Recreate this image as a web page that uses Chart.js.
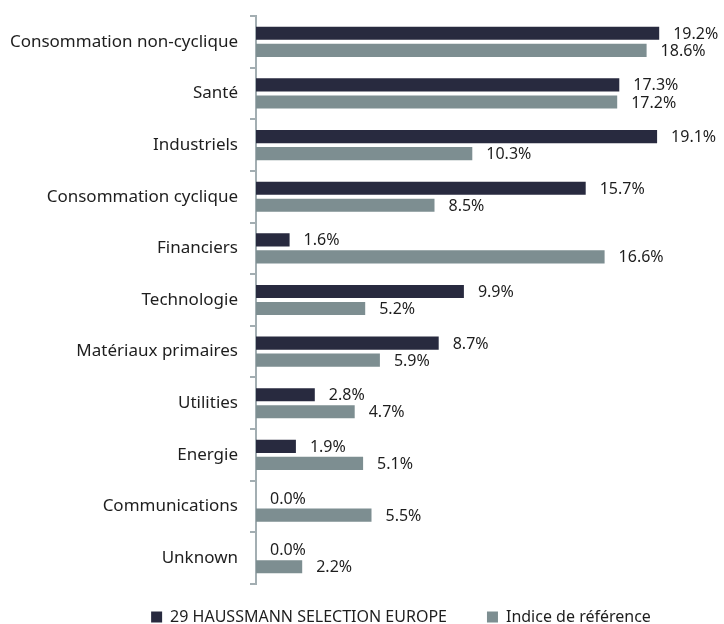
<!DOCTYPE html>
<html>
<head>
<meta charset="utf-8">
<script src="https://cdn.jsdelivr.net/npm/chart.js@4/dist/chart.umd.min.js"></script>
<style>
  html, body { margin: 0; padding: 0; background: #ffffff; }
  #wrap { width: 724px; height: 624px; position: relative; }
</style>
</head>
<body>
<div id="wrap"><canvas id="chart"></canvas></div>
<script>
// Sector allocation: fund vs. benchmark (% of assets)
const sectors = [
  "Consommation non-cyclique", "Santé", "Industriels", "Consommation cyclique",
  "Financiers", "Technologie", "Matériaux primaires", "Utilities",
  "Energie", "Communications", "Unknown"
];
const fundWeights  = [19.2, 17.3, 19.1, 15.7, 1.6, 9.9, 8.7, 2.8, 1.9, 0.0, 0.0];
const indexWeights = [18.6, 17.2, 10.3, 8.5, 16.6, 5.2, 5.9, 4.7, 5.1, 5.5, 2.2];
const seriesNames  = ["29 HAUSSMANN SELECTION EUROPE", "Indice de référence"];

const FONT = "'Noto Sans', 'Open Sans', sans-serif";
const TEXT = "#1e1e1e";
const AXIS_X = 256;         // where the category axis sits
const LEGEND_CENTER = 401;  // horizontal centre of the legend row
const LEGEND_MID_Y = 617;   // vertical centre of the legend row
const LEGEND_FONT = 16;
const LEGEND_GAP = 40;      // space between the two legend entries

// Writes each bar's percentage just past its end
const valueLabels = {
  id: "valueLabels",
  afterDatasetsDraw(chart) {
    const ctx = chart.ctx;
    ctx.save();
    ctx.font = "16px " + FONT;
    ctx.fillStyle = TEXT;
    ctx.textAlign = "left";
    ctx.textBaseline = "middle";
    chart.data.datasets.forEach((ds, i) => {
      chart.getDatasetMeta(i).data.forEach((bar, j) => {
        const v = ds.data[j];
        ctx.fillText(v.toFixed(1) + "%", bar.x + 14, bar.y + 1);
      });
    });
    ctx.restore();
  }
};

// Places the legend row under the labels + plot block
const legendPlace = {
  id: "legendPlace",
  afterLayout(chart) {
    const lg = chart.legend;
    if (!lg) return;
    const w = lg.right - lg.left;
    const h = lg.bottom - lg.top;
    lg.left = LEGEND_CENTER - w / 2;
    lg.right = LEGEND_CENTER + w / 2;
    lg.top = LEGEND_MID_Y - LEGEND_GAP - LEGEND_FONT / 2;
    lg.bottom = lg.top + h;
  }
};

new Chart(document.getElementById("chart"), {
  type: "bar",
  data: {
    labels: sectors,
    datasets: [
      { label: seriesNames[0], data: fundWeights,  backgroundColor: "#282a3f" },
      { label: seriesNames[1], data: indexWeights, backgroundColor: "#7d8e91" }
    ]
  },
  options: {
    indexAxis: "y",
    responsive: true,
    maintainAspectRatio: false,
    animation: false,
    categoryPercentage: 0.66,
    barPercentage: 0.77,
    layout: { padding: { top: 16, right: 48, left: 0, bottom: -26 } },
    scales: {
      x: { display: false, min: 0, max: 20 },
      y: {
        afterFit(scale) {
          scale.width = AXIS_X;
          scale.paddingTop = 0;
          scale.paddingBottom = 0;
        },
        border: { display: true, color: "#a3aeb2", width: 2 },
        grid: { drawOnChartArea: false, drawTicks: true, tickLength: 6, color: "#a3aeb2", lineWidth: 2, offset: true },
        ticks: { color: TEXT, font: { size: 17, family: FONT }, padding: 12 }
      }
    },
    plugins: {
      legend: {
        position: "bottom",
        labels: {
          color: TEXT,
          font: { size: LEGEND_FONT, family: FONT },
          boxWidth: 11,
          boxHeight: 11,
          padding: LEGEND_GAP,
          useBorderRadius: false
        }
      },
      tooltip: { enabled: false }
    }
  },
  plugins: [valueLabels, legendPlace]
});
</script>
</body>
</html>
